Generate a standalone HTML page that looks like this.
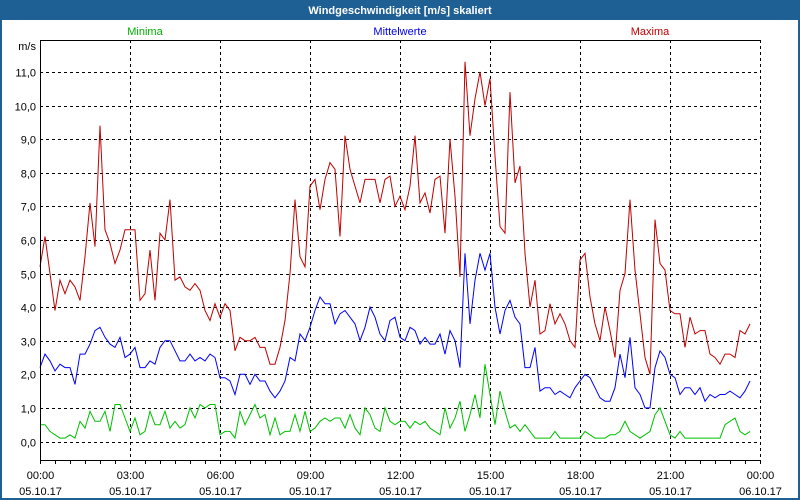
<!DOCTYPE html>
<html><head><meta charset="utf-8"><style>
body{margin:0;width:800px;height:500px;overflow:hidden;background:#fff;font-family:"Liberation Sans",sans-serif}
svg{display:block}
</style></head><body>
<svg id="c" width="800" height="500" xmlns="http://www.w3.org/2000/svg" font-family="Liberation Sans, sans-serif" font-size="11">
<rect x="0" y="0" width="800" height="500" fill="#1e5f94"/>
<rect x="2" y="20" width="796" height="478" fill="#fff"/>
<text x="400" y="14" text-anchor="middle" fill="#fff" font-weight="bold">Windgeschwindigkeit [m/s] skaliert</text>
<text x="145" y="35" text-anchor="middle" fill="#00b000">Minima</text>
<text x="400" y="35" text-anchor="middle" fill="#0000e0">Mittelwerte</text>
<text x="650" y="35" text-anchor="middle" fill="#c00000">Maxima</text>
<text x="36" y="50" text-anchor="end" fill="#000">m/s</text>
<g id="grid"></g><g id="series"></g><g id="axes"></g>
</svg>
<script>
const yTicks=[0,1,2,3,4,5,6,7,8,9,10,11];
const xTickHours=[0,3,6,9,12,15,18,21,24];
const xTickLabels=["00:00","03:00","06:00","09:00","12:00","15:00","18:00","21:00","00:00"];
const xDateLabels=["05.10.17","05.10.17","05.10.17","05.10.17","05.10.17","05.10.17","05.10.17","05.10.17","06.10.17"];
const stepMinutes=10;
const maxima=[5.2,6.1,5.0,3.9,4.8,4.4,4.8,4.6,4.2,5.5,7.1,5.8,9.4,6.3,5.9,5.3,5.7,6.3,6.3,6.3,4.2,4.4,5.7,4.2,6.2,6.0,7.2,4.8,4.9,4.6,4.5,4.7,4.5,3.9,3.6,4.1,3.7,4.1,3.9,2.7,3.1,3.0,3.0,3.1,2.8,2.8,2.3,2.3,2.8,3.6,5.0,7.2,5.5,5.2,7.6,7.8,6.9,7.8,8.3,8.1,6.1,9.1,8.1,7.6,7.1,7.8,7.8,7.8,7.1,7.8,7.9,7.0,7.3,6.9,7.6,9.1,7.1,7.4,6.8,7.8,7.9,6.2,9.0,7.3,4.9,11.3,9.1,10.2,11.0,10.0,10.8,8.5,6.4,6.2,10.4,7.7,8.2,5.6,4.0,4.8,3.2,3.3,4.1,3.5,3.8,3.5,3.0,2.8,5.4,5.6,4.3,3.5,3.0,4.0,3.3,2.5,4.5,5.0,7.2,5.1,3.8,2.5,2.0,6.6,5.3,5.1,3.9,3.8,3.8,2.8,3.7,3.2,3.3,3.3,2.6,2.5,2.3,2.6,2.6,2.5,3.3,3.2,3.5];
const means=[2.2,2.6,2.4,2.1,2.3,2.2,2.2,1.7,2.6,2.6,2.9,3.3,3.4,3.1,2.9,2.8,3.1,2.5,2.6,2.8,2.2,2.2,2.4,2.3,2.8,3.0,3.0,2.7,2.4,2.4,2.6,2.4,2.5,2.4,2.6,2.5,1.9,1.9,1.8,1.4,2.0,2.0,1.7,2.0,1.8,1.8,1.5,1.3,1.5,1.8,2.5,2.4,3.2,3.0,3.4,3.9,4.3,4.1,4.1,3.5,3.8,3.9,3.7,3.5,3.0,3.4,4.0,3.7,3.2,3.0,3.6,3.7,3.1,3.0,3.4,3.3,2.9,3.1,2.9,2.9,3.2,2.6,3.3,3.0,2.2,5.6,3.5,4.8,5.6,5.1,5.6,4.0,3.2,3.9,4.2,3.7,3.5,2.2,2.2,2.8,1.5,1.6,1.6,1.4,1.5,1.4,1.3,1.6,1.8,2.0,1.9,1.6,1.3,1.2,1.2,1.6,2.6,1.9,3.1,1.6,1.4,1.0,1.0,2.2,2.7,2.5,2.0,1.9,1.4,1.6,1.6,1.4,1.6,1.2,1.4,1.3,1.4,1.4,1.5,1.4,1.3,1.5,1.8];
const minima=[0.5,0.5,0.3,0.2,0.1,0.1,0.2,0.1,0.6,0.4,0.9,0.6,0.6,0.9,0.3,1.1,1.1,0.7,0.3,0.7,0.2,0.3,0.9,0.5,0.5,0.9,0.4,0.6,0.4,0.5,1.0,0.7,1.1,1.0,1.1,1.1,0.2,0.3,0.3,0.1,0.9,0.5,0.8,1.1,0.7,0.8,0.2,0.7,0.2,0.3,0.3,0.8,0.3,0.9,0.3,0.4,0.6,0.7,0.6,0.7,0.7,0.4,0.8,0.4,0.2,1.0,0.8,0.4,0.3,1.0,0.6,0.5,0.6,0.6,0.4,0.6,0.5,0.6,0.4,0.3,0.2,1.0,0.4,0.7,1.2,0.3,0.8,1.4,0.7,2.3,1.4,0.5,1.5,0.9,0.4,0.5,0.3,0.5,0.3,0.1,0.1,0.1,0.1,0.3,0.1,0.1,0.1,0.1,0.1,0.3,0.2,0.1,0.1,0.1,0.2,0.2,0.3,0.6,0.3,0.2,0.1,0.2,0.3,0.8,1.0,0.6,0.2,0.1,0.3,0.1,0.1,0.1,0.1,0.1,0.1,0.1,0.1,0.5,0.6,0.7,0.3,0.2,0.3];
const NS="http://www.w3.org/2000/svg";
const L=40,R=760,T=40,B=460;
function xScale(min){return L+min/1440*(R-L);}
function yScale(v){return 441.5-v*33.6;}
function mk(tag,attrs,parent){const e=document.createElementNS(NS,tag);for(const k in attrs)e.setAttribute(k,attrs[k]);parent.appendChild(e);return e;}
const gridG=document.getElementById('grid'),axesG=document.getElementById('axes'),serG=document.getElementById('series');
yTicks.forEach(v=>{const y=Math.round(yScale(v))+0.5;
 const l=mk('line',{x1:L,x2:R,y1:y,y2:y,stroke:'#000','stroke-dasharray':'3,3'},gridG);
 
 
 const t=mk('text',{x:36,y:y+4,'text-anchor':'end',fill:'#000'},axesG);
 t.textContent=v.toFixed(1).replace('.',',');
 
 
});
xTickHours.forEach((h,i)=>{const x=Math.round(xScale(h*60))+0.5;
 if(h>0){const l=mk('line',{x1:x,x2:x,y1:T,y2:B,stroke:'#000','stroke-dasharray':'3,3'},gridG);
 
 }
 const t=mk('text',{x:x,y:479,'text-anchor':'middle',fill:'#000'},axesG);t.textContent=xTickLabels[i];
 
 
 const d=mk('text',{x:x,y:495,'text-anchor':'middle',fill:'#000'},axesG);d.textContent=xDateLabels[i];
 
 
});
for(let m=0;m<=1440;m+=30){const x=Math.round(xScale(m))+0.5;
 const tk=mk('line',{x1:x,x2:x,y1:B,y2:B+4,stroke:'#000'},axesG);
 
 }
const frame=mk('path',{d:`M${L+0.5},${T} V${B+0.5} H${R}`,stroke:'#000',fill:'none'},axesG);


const topBorder=mk('line',{x1:L,x2:R,y1:T+0.5,y2:T+0.5,stroke:'#000'},axesG);


function drawLine(arr,color,name){const pts=arr.map((v,i)=>xScale(i*stepMinutes).toFixed(1)+','+yScale(v).toFixed(1)).join(' ');
 const p=mk('polyline',{points:pts,fill:'none',stroke:color,'stroke-width':1},serG);
 
 }
drawLine(minima,'#00c000','minima-line');
drawLine(means,'#0000ff','mittelwerte-line');
drawLine(maxima,'#c00000','maxima-line');
</script>
</body></html>
